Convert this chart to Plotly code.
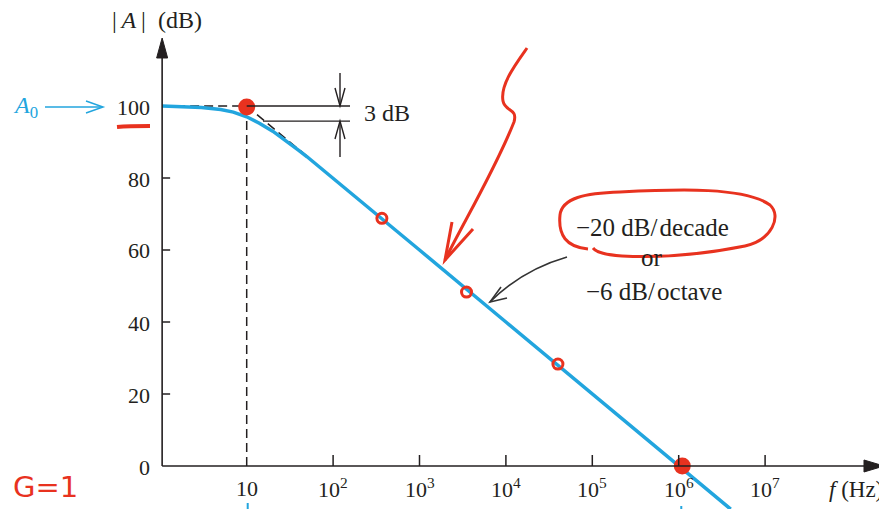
import math
import plotly.graph_objects as go

# ---------------- data ----------------
freq_hz = [1.05, 2, 3, 5, 7, 10, 14, 20, 30, 40, 50, 70, 100, 150, 200, 300, 500,
           1e3, 1e4, 1e5, 1e6, 4e6]
gain_db = [100, 99.8, 99.6, 99.0, 98.3, 97.0, 95.2, 93.0, 90.0, 87.7, 85.9, 83.0, 80,
           76.5, 74.0, 70.5, 66.0, 60, 40, 20, 0, -12]

asym_f = [1.05, 10, 55]
asym_db = [100, 100, 85.2]

corner_f = [10, 10]
corner_db = [0, 97]

ytick_vals = [0, 20, 40, 60, 80, 100]
xtick_vals = [10, 1e2, 1e3, 1e4, 1e5, 1e6, 1e7]
xtick_text = ["10", "10<sup>2</sup>", "10<sup>3</sup>", "10<sup>4</sup>",
              "10<sup>5</sup>", "10<sup>6</sup>", "10<sup>7</sup>"]

ring_f = [367, 3500, 40000]
ring_db = [68.8, 48.3, 28.3]
dot_f = [10, 1.1e6]
dot_db = [99.7, 0]

# ---------------- geometry ----------------
W, H = 887, 509
OFF = 8          # the page body margin shifts the figure by 8 px
PPD_X = 86.4     # screen pixels per decade
X_LOG0 = 160.3   # screen x of 1 Hz
PPD_Y = 3.6      # screen pixels per dB
Y_DB0 = 466.0    # screen y of 0 dB
XMIN = (OFF - X_LOG0) / PPD_X
XMAX = (OFF + W - X_LOG0) / PPD_X
YMAX = (Y_DB0 - OFF) / PPD_Y
YMIN = (Y_DB0 - OFF - H) / PPD_Y
F0 = 1.05  # where the vertical axis sits

BLUE = "#22a5de"
RED = "#e8321f"
INK = "#231f20"
SERIF = "Liberation Serif"


def fx(f):
    return X_LOG0 + PPD_X * math.log10(f)


def fy(db):
    return Y_DB0 - PPD_Y * db


def px(x):
    return (x - OFF) / W


def py(y):
    return 1 - (y - OFF) / H


def path(cmds):
    out = []
    for c in cmds:
        if isinstance(c, str):
            out.append(c)
        else:
            out.append(f"{px(c[0]):.5f},{py(c[1]):.5f}")
    return " ".join(out)


shapes = []


def add_path(cmds, color, width, fill=None):
    shapes.append(dict(type="path", xref="paper", yref="paper", path=path(cmds),
                       line=dict(color=color, width=width),
                       fillcolor=fill if fill else "rgba(0,0,0,0)",
                       layer="above"))


annotations = []


def add_text(x, y, text, size=22, color=INK, xanchor="center", family=SERIF):
    annotations.append(dict(x=px(x), y=py(y), xref="paper", yref="paper", text=text,
                            showarrow=False, xanchor=xanchor, yanchor="middle",
                            font=dict(family=family, size=size, color=color)))


fig = go.Figure()

# dashed asymptotes and corner-frequency line
fig.add_trace(go.Scatter(x=asym_f, y=asym_db, mode="lines",
                         line=dict(color=INK, width=1.5, dash="9px,5px"), hoverinfo="skip"))
fig.add_trace(go.Scatter(x=corner_f, y=corner_db, mode="lines",
                         line=dict(color=INK, width=1.5, dash="9px,5px"), hoverinfo="skip"))

# response curve
fig.add_trace(go.Scatter(x=freq_hz, y=gain_db, mode="lines",
                         line=dict(color=BLUE, width=3.5), hoverinfo="skip"))

# red handwritten marks on the curve
fig.add_trace(go.Scatter(x=ring_f, y=ring_db, mode="markers",
                         marker=dict(symbol="circle-open", size=10, color=RED,
                                     line=dict(width=3, color=RED)), hoverinfo="skip"))
fig.add_trace(go.Scatter(x=dot_f, y=dot_db, mode="markers",
                         marker=dict(symbol="circle", size=17, color=RED), hoverinfo="skip"))

# ---------------- axes ----------------
x0p, y0p = fx(F0), fy(0)
add_path(["M", (x0p, y0p), "L", (x0p, 52)], INK, 1.6)
add_path(["M", (x0p, 38), "L", (x0p - 5.5, 58), "L", (x0p + 5.5, 58), "Z"], INK, 1, fill=INK)
add_path(["M", (x0p, y0p), "L", (870, y0p)], INK, 1.6)
add_path(["M", (884, y0p), "L", (864, y0p - 6), "L", (864, y0p + 6), "Z"], INK, 1, fill=INK)

for v in ytick_vals:
    if 0 < v < 100:
        add_path(["M", (x0p, fy(v)), "L", (x0p + 8, fy(v))], INK, 1.5)
    add_text(152, fy(v) + 1, str(v), xanchor="right")

for v, t in zip(xtick_vals, xtick_text):
    if v > 10:
        add_path(["M", (fx(v), y0p), "L", (fx(v), y0p - 11)], INK, 1.5)
    add_text(fx(v), 488, t)

add_text(157, 20, "|\u2009<i>A</i>\u2009|\u2002(dB)", size=24)
add_text(856, 489, "<i>f</i> (Hz)", size=23)

# A0 label with blue arrow
add_text(25, 107, "<i>A</i><sub>0</sub>", size=24, color=BLUE)
add_path(["M", (45, 107), "L", (102, 107)], BLUE, 1.5)
add_path(["M", (86, 101), "L", (103, 107), "L", (86, 113)], BLUE, 1.5)

# small blue arrow tips at the bottom edge
add_path(["M", (fx(10) + 1, 503), "L", (fx(10) + 1, 509)], BLUE, 2)
add_path(["M", (fx(1.1e6) - 1, 506), "L", (fx(1.1e6) - 1, 509)], BLUE, 2)

# 3 dB bracket
yb_top, yb_bot = fy(100), fy(95.8)
add_path(["M", (fx(10), yb_top), "L", (350, yb_top)], INK, 1.4)
add_path(["M", (263, yb_bot), "L", (350, yb_bot)], INK, 1.4)
add_path(["M", (340, 73), "L", (340, yb_top)], INK, 1.4)
add_path(["M", (335, 88), "L", (340, yb_top), "L", (345, 88)], INK, 1.4)
add_path(["M", (340, 157), "L", (340, yb_bot)], INK, 1.4)
add_path(["M", (335, 139), "L", (340, yb_bot), "L", (345, 139)], INK, 1.4)
add_text(362, 113, "3 dB", size=24, xanchor="left")

# slope annotation
add_text(652, 227, "−20 dB/\u200adecade", size=25)
add_text(652, 257, "or", size=25)
add_text(654, 291, "−6 dB/\u200aoctave", size=25)
add_path(["M", (567, 257), "Q", (522, 270), (490, 302)], "#333333", 1.6)
add_path(["M", (501, 287), "L", (490, 302), "L", (507, 298)], "#333333", 1.6)

# ---------------- red handwriting ----------------
add_path(["M", (117, 127), "C", (128, 126), (140, 126), (150, 126)], RED, 4)
add_path(["M", (527, 48), "C", (515, 65), (500, 85), (503, 101),
          "C", (505, 112), (518, 108), (514, 122),
          "C", (495, 170), (462, 225), (445, 260)], RED, 3)
add_path(["M", (452, 222), "L", (445, 260), "L", (473, 229)], RED, 3)
add_path(["M", (588, 249), "C", (566, 247), (558, 235), (560, 215),
          "C", (562, 198), (585, 193), (620, 192),
          "C", (680, 189), (745, 187), (770, 205),
          "C", (782, 216), (772, 240), (745, 246),
          "C", (700, 255), (660, 258), (622, 256),
          "C", (607, 255), (596, 252), (593, 248)], RED, 3)
add_text(45, 487, "G=1", size=29, color=RED, family="DejaVu Sans")

fig.update_layout(
    width=W, height=H,
    margin=dict(l=0, r=0, t=0, b=0),
    paper_bgcolor="white", plot_bgcolor="white",
    showlegend=False,
    xaxis=dict(type="log", range=[XMIN, XMAX], visible=False, fixedrange=True),
    yaxis=dict(range=[YMIN, YMAX], visible=False, fixedrange=True),
    shapes=shapes, annotations=annotations,
)

fig.write_html("out.html", config={"displayModeBar": False})
